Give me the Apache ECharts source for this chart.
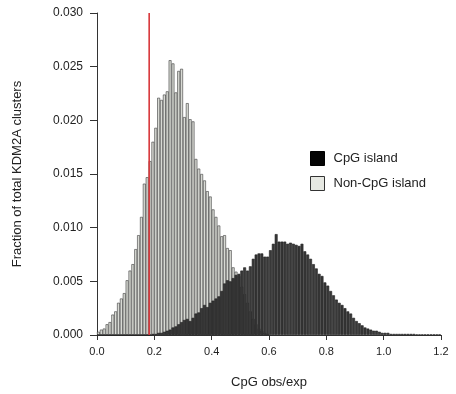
<!DOCTYPE html>
<html>
<head>
<meta charset="utf-8">
<script src="https://cdn.jsdelivr.net/npm/echarts@6/dist/echarts.min.js"></script>
<style>
  html, body { margin: 0; padding: 0; background: #fff; }
  #main { width: 456px; height: 394px; }
</style>
</head>
<body>
<div id="main"></div>
<script>
// bins of 0.01 from 0.00 to 1.20
var binCount = 120;
var binNames = [];
for (var i = 0; i < binCount; i++) binNames.push((i / 100).toFixed(2));

// Non-CpG island (light bars), first 60 bins, rest 0
var nonCpg = [
  0.0003, 0.0005, 0.0006, 0.0010, 0.0012, 0.0019, 0.0022, 0.0030, 0.0034, 0.0039,
  0.0051, 0.0060, 0.0066, 0.0080, 0.0093, 0.0110, 0.0141, 0.0147, 0.0162, 0.0180,
  0.0193, 0.0221, 0.0219, 0.0224, 0.0227, 0.0256, 0.0253, 0.0226, 0.0246, 0.0248,
  0.0203, 0.0216, 0.0201, 0.0199, 0.0164, 0.0155, 0.0150, 0.0144, 0.0134, 0.0129,
  0.0117, 0.0110, 0.0102, 0.0092, 0.0093, 0.0081, 0.0079, 0.0063, 0.0059, 0.0055,
  0.0045, 0.0038, 0.0030, 0.0022, 0.0015, 0.0010, 0.0006, 0.0004, 0.0002, 0.0001
];

// CpG island (dark bars)
var cpg = [
  0, 0, 0, 0, 0, 0, 0, 0, 0, 0,
  0, 0, 0, 0, 0, 0, 0, 0, 0, 0.0001,
  0.0001, 0.0002, 0.0002, 0.0003, 0.0004, 0.0005, 0.0007, 0.0008, 0.0010, 0.0012,
  0.0014, 0.0015, 0.0013, 0.0016, 0.0020, 0.0021, 0.0025, 0.0028, 0.0026, 0.0030,
  0.0032, 0.0034, 0.0036, 0.0041, 0.0048, 0.0051, 0.0050, 0.0053, 0.0056, 0.0057,
  0.0060, 0.0063, 0.0060, 0.0064, 0.0071, 0.0075, 0.0076, 0.0076, 0.0073, 0.0073,
  0.0079, 0.0085, 0.0094, 0.0087, 0.0087, 0.0087, 0.0085, 0.0086, 0.0085, 0.0084,
  0.0083, 0.0085, 0.0078, 0.0075, 0.0071, 0.0066, 0.0062, 0.0057, 0.0055, 0.0049,
  0.0046, 0.0041, 0.0037, 0.0033, 0.0030, 0.0028, 0.0025, 0.0022, 0.0020, 0.0016,
  0.0013, 0.0011, 0.0009, 0.0007, 0.0006, 0.0005, 0.0004, 0.0004, 0.0003, 0.0002,
  0.0002, 0.0002, 0.0001, 0.0001, 0.0001, 0.0001, 0.0001, 0.0001, 0.0001, 0.0001,
  0.0001, 0.00005, 0.00005, 0.00005, 0.00005, 0.00005, 0.00005, 0.00005, 0.00005, 0.00005
];

// red cutoff line
var cutoffX = 0.182;

var fontFam = "'Liberation Sans', Arial, sans-serif";

var chart = echarts.init(document.getElementById("main"), null, { renderer: "canvas" });
chart.setOption({
  animation: false,
  grid: { left: 97, right: 15, top: 13, bottom: 57 },
  legend: {
    orient: "vertical",
    left: 305,
    top: 146,
    itemWidth: 14,
    itemHeight: 14,
    itemGap: 10,
    selectedMode: false,
    textStyle: { fontFamily: fontFam, fontSize: 13, color: "#222", padding: [0, 0, 0, 4] },
    data: [
      { name: "CpG island", icon: "rect", itemStyle: { color: "#050505", borderColor: "#000", borderWidth: 1 } },
      { name: "Non-CpG island", icon: "rect", itemStyle: { color: "#e6e8e2", borderColor: "#333", borderWidth: 1 } }
    ]
  },
  xAxis: [
    {
      type: "category",
      data: binNames,
      show: false,
      boundaryGap: true
    },
    {
      type: "value",
      position: "bottom",
      min: 0,
      max: 1.2,
      interval: 0.2,
      axisLine: { show: true, onZero: false, lineStyle: { color: "#333", width: 1 } },
      axisTick: { show: true, inside: false, length: 5, lineStyle: { color: "#333" } },
      splitLine: { show: false },
      axisLabel: {
        fontFamily: fontFam, fontSize: 11, color: "#222", margin: 11,
        formatter: function (v) { return v.toFixed(1); }
      },
      name: "CpG obs/exp",
      nameLocation: "middle",
      nameGap: 41,
      nameTextStyle: { fontFamily: fontFam, fontSize: 13, color: "#222" }
    }
  ],
  yAxis: {
    type: "value",
    min: 0,
    max: 0.03,
    interval: 0.005,
    axisLine: { show: true, lineStyle: { color: "#333", width: 1 } },
    axisTick: { show: true, inside: false, length: 7, lineStyle: { color: "#333" } },
    splitLine: { show: false },
    axisLabel: {
      fontFamily: fontFam, fontSize: 12, color: "#222", margin: 14,
      formatter: function (v) { return v.toFixed(3); }
    },
    name: "Fraction of total KDM2A clusters",
    nameLocation: "middle",
    nameGap: 73,
    nameTextStyle: { fontFamily: fontFam, fontSize: 13, color: "#222" }
  },
  series: [
    {
      name: "Non-CpG island",
      type: "bar",
      xAxisIndex: 0,
      barCategoryGap: "0%",
      barGap: "-100%",
      itemStyle: { color: "#d8dad4", borderColor: "#3a3a3a", borderWidth: 0.6 },
      data: nonCpg
    },
    {
      name: "CpG island",
      type: "bar",
      xAxisIndex: 0,
      barCategoryGap: "0%",
      barGap: "-100%",
      itemStyle: { color: "#383838", borderColor: "#1e1e1e", borderWidth: 0.6 },
      data: cpg
    },
    {
      name: "cutoff",
      type: "line",
      xAxisIndex: 1,
      symbol: "none",
      lineStyle: { color: "#d8373a", width: 1.6 },
      data: [[cutoffX, 0], [cutoffX, 0.03]]
    }
  ]
});
</script>
</body>
</html>
